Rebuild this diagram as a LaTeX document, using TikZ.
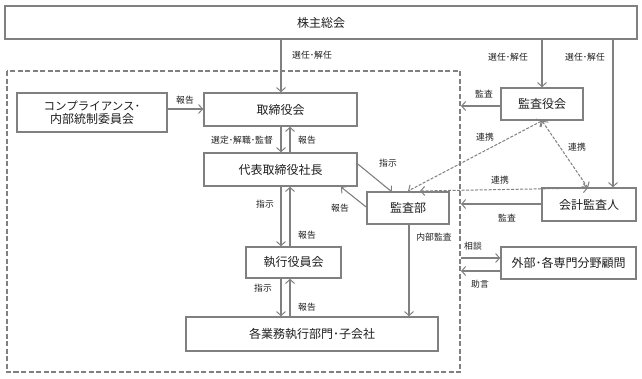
\documentclass[tikz,border=0pt]{standalone}
\usepackage{fontspec}
\setmainfont{Noto Sans CJK JP}
\usetikzlibrary{arrows.meta,calc}
\definecolor{ln}{gray}{0.5}
\definecolor{tx}{gray}{0.12}
\begin{document}
\begin{tikzpicture}[x=1pt,y=-1pt,
  box/.style={draw=ln,line width=1.6pt,fill=white,text=tx,font=\fontsize{12}{14}\selectfont,inner sep=0pt,align=center},
  arr/.style={draw=ln,line width=1.1pt,-{Straight Barb[length=4pt,width=9pt,line width=1pt]}},
  darr/.style={draw=ln,line width=1pt,dash pattern=on 3pt off 1.5pt,{Straight Barb[length=4pt,width=9pt,line width=1pt]}-{Straight Barb[length=4pt,width=9pt,line width=1pt]}},
  lbl/.style={text=tx,font=\fontsize{8.8}{10}\selectfont,inner sep=0pt}]
\useasboundingbox[fill=white] (0,0) rectangle (642,378);
% dashed boundary
\draw[ln,line width=1.4pt,dash pattern=on 5pt off 2.5pt] (7,71) rectangle (460,372);
% boxes
\node[box,minimum width=632pt,minimum height=33pt] (agm) at (321,22.5) {株主総会};
\node[box,minimum width=150pt,minimum height=39pt] (comp) at (92,112.5) {\fontsize{11.5}{14}\selectfont コンプライアンス･\\[-1pt]内部統制委員会};
\node[box,minimum width=153pt,minimum height=33pt] (board) at (280.5,109.5) {取締役会};
\node[box,minimum width=153pt,minimum height=33pt] (ceo) at (280.5,169.5) {代表取締役社長};
\node[box,minimum width=95pt,minimum height=31pt] (exec) at (293.5,262.5) {執行役員会};
\node[box,minimum width=252pt,minimum height=34pt] (div) at (312,334) {各業務執行部門･子会社};
\node[box,minimum width=82pt,minimum height=32pt] (audit) at (408,208) {監査部};
\node[box,minimum width=82pt,minimum height=32pt] (ksy) at (542,104) {監査役会};
\node[box,minimum width=94pt,minimum height=33pt] (acc) at (589,204.5) {会計監査人};
\node[box,minimum width=135pt,minimum height=32pt] (adv) at (568.5,263) {外部･各専門分野顧問};
% free ends on the dashed boundary
\coordinate (bK) at (461,106);
\coordinate (bA) at (461,204);
\coordinate (bS) at (461,258);
\coordinate (bJ) at (461,271);
% shareholders
\draw[arr] (agm.south -| 281,0) -- (board.north -| 281,0);
\node[lbl] at (312,55) {選任･解任};
\draw[arr] (agm.south -| ksy.north) -- (ksy.north);
\node[lbl] at (508,57) {選任･解任};
\draw[arr] (agm.south -| 613,0) -- (acc.north -| 613,0);
\node[lbl] at (585,57) {選任･解任};
% compliance
\draw[arr] (comp.east |- 0,109) -- (board.west |- 0,109);
\node[lbl] at (185,100) {報告};
% board - ceo
\draw[arr] (board.south -| 281,0) -- (ceo.north -| 281,0);
\draw[arr] (ceo.north -| 290,0) -- (board.south -| 290,0);
\node[lbl] at (242,140) {選定･解職･監督};
\node[lbl] at (307,140) {報告};
% ceo - exec
\draw[arr] (ceo.south -| 281,0) -- (exec.north -| 281,0);
\draw[arr] (exec.north -| 290,0) -- (ceo.south -| 290,0);
\node[lbl] at (265,204) {指示};
\node[lbl] at (307,235) {報告};
% exec - div
\draw[arr] (exec.south -| 281,0) -- (div.north -| 281,0);
\draw[arr] (div.north -| 290,0) -- (exec.south -| 290,0);
\node[lbl] at (263,288) {指示};
\node[lbl] at (307,307) {報告};
% ceo - audit
\draw[arr] (ceo.east |- 0,164) -- (392,192);
\node[lbl] at (388,163) {指示};
\draw[arr] (audit.west |- 0,207) -- (341,187);
\node[lbl] at (340,208) {報告};
\draw[arr] (audit.south -| 409,0) -- (div.north -| 409,0);
\node[lbl] at (434,237) {内部監査};
% kansayaku / auditor to boundary
\draw[arr] (ksy.west |- bK) -- (bK);
\node[lbl] at (484,94) {監査};
\draw[arr] (acc.west |- bA) -- (bA);
\node[lbl] at (507,218) {監査};
\draw[arr] (bS) -- (adv.west |- bS);
\node[lbl] at (473,246) {相談};
\draw[arr] (adv.west |- bJ) -- (bJ);
\node[lbl] at (480,284) {助言};
% cooperation
\draw[darr] (ksy.south) -- (408,191);
\node[lbl] at (485,137) {連携};
\draw[darr] (ksy.south) -- (588,188);
\node[lbl] at (577,147) {連携};
\draw[darr] (420,191) -- (588,188);
\node[lbl] at (500,180) {連携};
\end{tikzpicture}
\end{document}
